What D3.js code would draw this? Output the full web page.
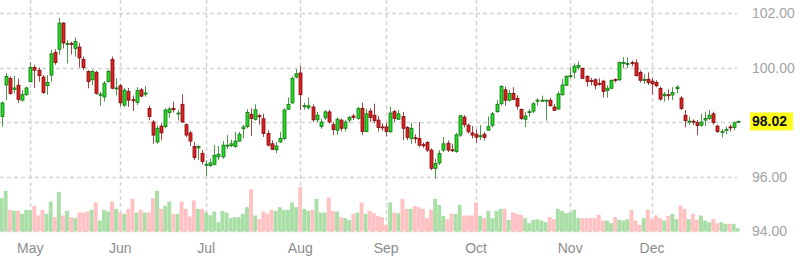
<!DOCTYPE html>
<html>
<head>
<meta charset="utf-8">
<script src="https://cdn.jsdelivr.net/npm/d3@7"></script>
<style>
	body { margin: 0; background: #fff; }
	svg { display: block; font-family: 'Liberation Sans', Arial, sans-serif; }
</style>
</head>
<body>
<svg id="chart"></svg>
<script>
const months = ['May', 'Jun', 'Jul', 'Aug', 'Sep', 'Oct', 'Nov', 'Dec']
const monthStart = [7, 29, 50, 73, 94, 116, 139, 159]
const priceTicks = [94, 96, 98, 100, 102]

const open = [
	98.2, 99.36, 99.6, 99.2, 99.35, 98.8, 99.0, 99.48, 100.0, 99.9,
	99.65, 99.33, 99.72, 100.55, 100.67, 101.63, 100.85, 100.88, 100.7, 100.75,
	100.3, 99.85, 99.55, 99.82, 98.98, 98.92, 99.48, 100.3, 99.22, 99.33,
	98.62, 99.12, 98.82, 98.72, 99.18, 99.02, 98.5, 98.0, 97.27, 97.85,
	97.83, 98.35, 98.5, 98.3, 98.65, 97.9, 97.6, 97.1, 97.05, 96.85,
	96.42, 96.4, 96.45, 96.72, 96.72, 97.12, 97.13, 97.1, 97.3, 97.75,
	97.83, 98.28, 98.1, 98.23, 98.12, 97.58, 97.2, 96.98, 97.27, 97.4,
	98.47, 98.7, 99.65, 99.8, 98.58, 98.52, 98.55, 98.08, 97.83, 98.15,
	98.37, 97.9, 97.7, 98.07, 97.77, 98.07, 98.22, 98.13, 98.5, 97.65,
	98.4, 98.25, 98.07, 97.82, 97.82, 97.64, 98.38, 98.1, 98.2, 97.8,
	97.4, 97.42, 97.4, 97.17, 97.25, 96.97, 96.3, 96.5, 96.97, 97.22,
	96.98, 96.92, 97.52, 98.18, 97.88, 97.6, 97.55, 97.47, 97.55, 97.7,
	97.88, 98.38, 98.67, 99.18, 98.8, 99.05, 98.86, 98.46, 98.1, 98.35,
	98.4, 98.77, 98.78, 98.78, 98.8, 98.55, 98.48, 99.0, 99.35, 99.67,
	99.83, 100.0, 99.97, 99.67, 99.52, 99.55, 99.42, 99.5, 99.15, 99.24,
	99.56, 99.55, 100.15, 100.13, 100.18, 100.17, 99.82, 99.53, 99.57, 99.5,
	99.45, 99.23, 98.96, 99.0, 98.99, 99.22, 98.88, 98.25, 98.0, 98.03,
	97.98, 97.88, 98.07, 98.13, 98.3, 97.85, 97.62, 97.7, 97.82, 97.8,
	97.98
]
const high = [
	98.75, 99.8, 99.67, 99.7, 99.6, 99.17, 99.3, 100.2, 100.1, 100.0,
	99.72, 99.72, 100.65, 100.67, 101.82, 101.66, 101.0, 100.95, 101.1, 100.9,
	100.4, 99.9, 99.92, 99.88, 99.1, 99.5, 99.92, 100.4, 99.6, 99.4,
	99.25, 99.25, 98.97, 99.28, 99.25, 99.32, 98.6, 98.07, 97.88, 97.95,
	98.5, 98.55, 98.75, 98.45, 99.02, 97.95, 97.68, 97.27, 97.15, 96.97,
	96.6, 96.65, 97.15, 97.12, 97.3, 97.52, 97.35, 97.64, 97.64, 97.9,
	98.47, 98.5, 98.65, 98.3, 98.3, 97.7, 97.33, 97.27, 97.64, 98.5,
	98.9, 99.67, 99.94, 100.06, 98.7, 98.9, 98.65, 98.37, 98.12, 98.44,
	98.45, 98.0, 98.17, 98.13, 98.07, 98.22, 98.3, 98.56, 98.71, 98.47,
	98.5, 98.67, 98.22, 97.95, 97.97, 98.56, 98.44, 98.44, 98.37, 97.85,
	97.97, 97.55, 98.0, 97.25, 97.3, 97.03, 96.65, 96.97, 97.45, 97.32,
	97.2, 97.6, 98.25, 98.25, 97.95, 97.85, 97.73, 97.89, 97.64, 98.2,
	98.37, 98.8, 99.36, 99.3, 99.17, 99.28, 98.98, 98.5, 98.37, 98.47,
	98.74, 98.88, 98.97, 98.82, 98.88, 98.67, 99.12, 99.57, 99.72, 100.0,
	100.15, 100.22, 100.0, 99.72, 99.62, 99.6, 99.6, 99.55, 99.35, 99.57,
	99.6, 100.22, 100.38, 100.38, 100.25, 100.3, 99.9, 99.75, 99.82, 99.62,
	99.53, 99.3, 99.1, 99.2, 99.28, 99.35, 98.95, 98.44, 98.2, 98.1,
	98.07, 98.3, 98.38, 98.44, 98.38, 97.9, 97.75, 97.83, 97.9, 98.02,
	98.06
]
const low = [
	97.83, 98.8, 99.0, 99.05, 98.7, 98.75, 98.96, 99.45, 99.25, 99.48,
	99.03, 99.0, 99.48, 100.1, 100.47, 100.7, 100.15, 100.48, 100.4, 100.0,
	99.9, 99.24, 99.35, 99.0, 98.6, 98.75, 99.45, 99.2, 98.98, 98.58,
	98.55, 98.55, 98.4, 98.62, 98.9, 98.93, 98.07, 97.2, 97.2, 97.33,
	97.77, 98.15, 98.35, 98.05, 97.97, 97.45, 97.12, 96.6, 96.6, 96.45,
	96.02, 96.35, 96.4, 96.6, 96.65, 97.0, 97.08, 97.05, 97.27, 97.4,
	97.77, 97.49, 98.05, 97.9, 97.45, 97.1, 96.97, 96.85, 97.23, 97.33,
	98.45, 98.68, 99.6, 98.44, 98.45, 98.45, 98.0, 98.0, 97.75, 98.07,
	97.95, 97.52, 97.52, 97.65, 97.65, 97.97, 98.08, 98.08, 97.52, 97.62,
	98.0, 97.95, 97.65, 97.68, 97.48, 97.6, 98.0, 98.07, 97.33, 97.33,
	97.2, 97.22, 97.07, 97.05, 96.9, 96.23, 95.92, 96.42, 96.9, 96.9,
	96.9, 96.87, 97.45, 97.8, 97.58, 97.4, 97.24, 97.33, 97.33, 97.68,
	97.8, 98.33, 98.6, 98.6, 98.75, 98.8, 98.46, 98.07, 97.82, 98.2,
	98.33, 98.6, 98.75, 98.05, 98.55, 98.4, 98.43, 98.97, 99.32, 99.6,
	99.6, 99.92, 99.57, 99.3, 99.35, 99.2, 99.33, 98.9, 98.9, 99.2,
	99.45, 99.5, 99.98, 99.98, 100.05, 99.67, 99.45, 99.4, 99.36, 99.0,
	99.28, 98.79, 98.75, 98.8, 98.8, 99.05, 98.44, 97.8, 97.9, 97.88,
	97.52, 97.83, 97.85, 98.07, 97.9, 97.6, 97.43, 97.55, 97.65, 97.7,
	97.96
]
const close = [
	98.7, 99.67, 99.05, 99.25, 98.83, 99.0, 99.25, 100.0, 99.9, 99.7,
	99.08, 99.45, 100.5, 100.18, 101.63, 100.9, 100.88, 100.85, 100.95, 100.35,
	100.0, 99.48, 99.85, 99.05, 99.02, 99.42, 99.85, 99.24, 99.25, 98.7,
	99.17, 98.8, 98.78, 99.15, 98.95, 99.07, 98.2, 97.52, 97.77, 97.6,
	98.44, 98.48, 98.45, 98.33, 98.0, 97.52, 97.3, 96.7, 97.1, 96.55,
	96.45, 96.5, 96.78, 96.82, 97.15, 97.15, 97.2, 97.3, 97.55, 97.82,
	98.35, 98.13, 98.45, 98.2, 97.58, 97.15, 97.0, 97.12, 97.4, 98.44,
	98.65, 99.6, 99.77, 99.0, 98.6, 98.6, 98.08, 98.25, 98.0, 98.37,
	98.0, 97.72, 98.1, 97.77, 98.0, 98.17, 98.17, 98.5, 97.65, 98.3,
	98.17, 98.05, 97.8, 97.8, 97.65, 98.33, 98.13, 98.3, 97.77, 97.43,
	97.77, 97.4, 97.15, 97.13, 96.97, 96.3, 96.48, 96.85, 97.2, 96.97,
	96.95, 97.53, 98.23, 97.9, 97.64, 97.52, 97.44, 97.5, 97.43, 97.83,
	98.3, 98.65, 99.3, 98.8, 99.05, 98.83, 98.58, 98.13, 98.22, 98.38,
	98.67, 98.8, 98.8, 98.8, 98.6, 98.43, 99.03, 99.36, 99.67, 99.7,
	100.05, 100.08, 99.6, 99.48, 99.5, 99.35, 99.4, 99.12, 99.24, 99.52,
	99.53, 100.18, 100.18, 100.15, 100.15, 99.7, 99.53, 99.56, 99.45, 99.4,
	99.33, 98.84, 99.02, 98.97, 99.08, 99.28, 98.5, 98.05, 98.03, 98.0,
	97.87, 98.0, 98.13, 98.25, 97.98, 97.65, 97.66, 97.73, 97.79, 97.97,
	98.02
]
const volume = [
	100, 122, 65, 62, 62, 53, 65, 65, 77, 48,
	65, 53, 90, 43, 119, 48, 62, 43, 40, 57,
	57, 60, 65, 87, 33, 65, 60, 90, 68, 57,
	53, 68, 98, 57, 65, 57, 57, 100, 122, 68,
	77, 90, 53, 53, 90, 68, 45, 93, 68, 68,
	57, 49, 60, 28, 62, 57, 40, 43, 43, 53,
	73, 127, 48, 37, 60, 53, 65, 62, 73, 65,
	65, 87, 73, 133, 68, 62, 65, 98, 57, 57,
	102, 62, 60, 43, 40, 35, 53, 57, 87, 53,
	62, 55, 47, 43, 20, 87, 57, 55, 98, 68,
	68, 77, 73, 68, 40, 65, 98, 80, 47, 37,
	53, 53, 80, 48, 48, 48, 87, 47, 40, 62,
	40, 62, 68, 68, 35, 57, 53, 50, 40, 25,
	35, 37, 33, 28, 43, 37, 68, 62, 55, 57,
	65, 40, 40, 40, 40, 40, 50, 33, 33, 25,
	43, 35, 33, 37, 65, 33, 20, 40, 65, 37,
	48, 40, 33, 47, 53, 37, 77, 68, 37, 53,
	35, 48, 33, 28, 37, 25, 28, 23, 23, 23,
	10
]

const width = 800
const height = 261
const plotRight = 737

const candles = close.map((c, i) => ({ i, o: open[i], h: high[i], l: low[i], c, v: volume[i] }))
const up = d => d.c >= d.o

const svg = d3.select('#chart')
	.attr('width', width)
	.attr('height', height)

const x = d3.scaleLinear()
	.domain([0, candles.length - 1])
	.range([1.7, 737.9])

const y = d3.scaleLinear()
	.domain([94, 102])
	.range([231, 13])

const vy = d3.scaleLinear()
	.domain([0, 300])
	.range([231.5, 131.5])

const step = x(1) - x(0)

// grid
svg.append('g')
	.selectAll('line')
	.data(priceTicks)
	.enter()
	.append('line')
	.attr('x1', 0)
	.attr('x2', plotRight)
	.attr('y1', d => Math.round(y(d)) + 0.5)
	.attr('y2', d => Math.round(y(d)) + 0.5)
	.style('stroke', '#d4d4d4')
	.style('stroke-width', 1.5)
	.style('stroke-dasharray', '4,3')

svg.append('g')
	.selectAll('line')
	.data(monthStart)
	.enter()
	.append('line')
	.attr('x1', d => Math.round(x(d)) + 0.5)
	.attr('x2', d => Math.round(x(d)) + 0.5)
	.attr('y1', 0)
	.attr('y2', 231)
	.style('stroke', '#d4d4d4')
	.style('stroke-width', 1.5)
	.style('stroke-dasharray', '4,3')

// volume
svg.append('g')
	.selectAll('rect')
	.data(candles)
	.enter()
	.append('rect')
	.attr('x', d => x(d.i) - step / 2)
	.attr('width', step - 0.2)
	.attr('y', d => vy(d.v))
	.attr('height', d => vy(0) - vy(d.v))
	.style('fill', d => up(d) ? '#a9dfa6' : '#ffc1c1')

// candles
const g = svg.append('g')
	.selectAll('g')
	.data(candles)
	.enter()
	.append('g')

g.append('line')
	.attr('x1', d => Math.round(x(d.i)) + 0.5)
	.attr('x2', d => Math.round(x(d.i)) + 0.5)
	.attr('y1', d => y(d.h))
	.attr('y2', d => y(d.l))
	.style('stroke', d => up(d) ? '#4b9a4b' : '#a84444')
	.style('stroke-width', 1)

g.append('rect')
	.attr('x', d => Math.round(x(d.i)) - 1)
	.attr('width', 3)
	.attr('y', d => y(Math.max(d.o, d.c)))
	.attr('height', d => Math.max(1, y(Math.min(d.o, d.c)) - y(Math.max(d.o, d.c))))
	.style('fill', d => up(d) ? '#22dd22' : '#e02020')
	.style('stroke', d => up(d) ? '#157015' : '#7a1010')
	.style('stroke-width', 0.8)

// axes text
svg.append('g')
	.selectAll('text')
	.data(priceTicks)
	.enter()
	.append('text')
	.attr('x', 752)
	.attr('y', d => y(d) + 5)
	.attr('font-size', 14)
	.attr('fill', '#a3a3a3')
	.text(d => d.toFixed(2))

svg.append('g')
	.selectAll('text')
	.data(months)
	.enter()
	.append('text')
	.attr('x', (d, i) => x(monthStart[i]))
	.attr('y', 253)
	.attr('text-anchor', 'middle')
	.attr('font-size', 14)
	.attr('fill', '#8c8c8c')
	.text(d => d)

// last price marker
const last = close[close.length - 1]
svg.append('rect')
	.attr('x', 750)
	.attr('y', y(last) - 9)
	.attr('width', 43)
	.attr('height', 18)
	.style('fill', '#ffff1a')

svg.append('text')
	.attr('x', 752)
	.attr('y', y(last) + 5)
	.attr('font-size', 14)
	.attr('font-weight', 'bold')
	.attr('fill', '#111')
	.text(last.toFixed(2))
</script>
</body>
</html>
